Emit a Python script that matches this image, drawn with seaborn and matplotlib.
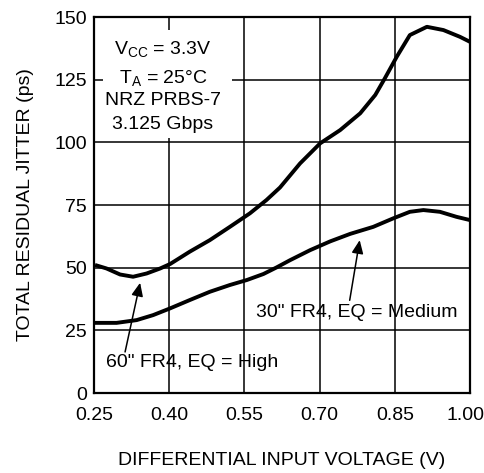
import matplotlib
matplotlib.use("Agg")
import matplotlib.pyplot as plt
import matplotlib.transforms as mtransforms
import seaborn as sns
import pandas as pd
from matplotlib.patches import Rectangle

# datos
volt_high = [0.252, 0.275, 0.302, 0.328, 0.355, 0.382, 0.402, 0.441, 0.481, 0.521, 0.561,
             0.594, 0.621, 0.661, 0.701, 0.741, 0.781, 0.811, 0.830, 0.854, 0.880, 0.914,
             0.947, 0.980, 1.00]
jitter_high = [51.1, 49.7, 47.3, 46.4, 47.7, 49.7, 51.5, 56.4, 61.0, 66.3, 71.7,
               77.0, 82.0, 91.6, 99.6, 104.9, 111.6, 118.9, 125.5, 134.2, 142.8, 146.1,
               144.8, 142.1, 140.1]

volt_med = [0.252, 0.295, 0.335, 0.368, 0.402, 0.441, 0.481, 0.521, 0.555, 0.588, 0.614,
            0.641, 0.681, 0.721, 0.761, 0.807, 0.847, 0.880, 0.907, 0.940, 0.973, 1.00]
jitter_med = [28.0, 28.0, 29.1, 31.1, 33.8, 37.1, 40.4, 43.1, 45.1, 47.5, 50.1,
              53.0, 57.0, 60.5, 63.5, 66.3, 69.7, 72.3, 73.0, 72.3, 70.3, 69.0]

x_ticks = [0.25, 0.40, 0.55, 0.70, 0.85, 1.00]
y_ticks = [0, 25, 50, 75, 100, 125, 150]

cond_lines = [r"V$_{\rm CC}$ = 3.3V", r"T$_{\rm A}$ = 25°C", "NRZ PRBS-7", "3.125 Gbps"]
label_high = '60" FR4, EQ = High'
label_med = '30" FR4, EQ = Medium'

sns.set_style("white")
plt.rcParams['font.family'] = ['Liberation Sans', 'DejaVu Sans']
plt.rcParams['mathtext.fontset'] = 'custom'
plt.rcParams['mathtext.rm'] = 'Liberation Sans'
plt.rcParams['mathtext.it'] = 'Liberation Sans:italic'
plt.rcParams['text.color'] = 'black'
plt.rcParams['axes.labelcolor'] = 'black'

fs = 14

fig = plt.figure(figsize=(4.85, 4.73), dpi=100)
ax = fig.add_axes([0.1938, 0.169, 0.7753, 0.795])

df_high = pd.DataFrame({"v": volt_high, "j": jitter_high})
df_med = pd.DataFrame({"v": volt_med, "j": jitter_med})
sns.lineplot(data=df_high, x="v", y="j", color="black", lw=2.8, ax=ax, zorder=3, sort=False)
sns.lineplot(data=df_med, x="v", y="j", color="black", lw=2.8, ax=ax, zorder=3, sort=False)
for l in ax.lines:
    l.set_solid_joinstyle("round")
    l.set_solid_capstyle("butt")

ax.set_xlim(0.25, 1.00)
ax.set_ylim(0, 150)
ax.set_xticks(x_ticks)
ax.set_xticklabels([f"{t:.2f}" for t in x_ticks])
ax.set_yticks(y_ticks)
ax.tick_params(length=0, labelsize=fs, colors="black")
ax.tick_params(axis="x", pad=10)
ax.tick_params(axis="y", pad=5)

# el ultimo rotulo se corre un poco a la izquierda
last = ax.get_xticklabels()[-1]
last.set_transform(last.get_transform() + mtransforms.ScaledTranslation(-5 / 100, 0, fig.dpi_scale_trans))

ax.grid(True, color="black", lw=1.1)
ax.set_axisbelow(True)
for s in ax.spines.values():
    s.set_color("black")
    s.set_linewidth(1.6)

ax.set_xlabel("DIFFERENTIAL INPUT VOLTAGE (V)", fontsize=fs, labelpad=20)
ax.set_ylabel("TOTAL RESIDUAL JITTER (ps)", fontsize=fs, labelpad=15)

# caja blanca con condiciones
ax.add_patch(Rectangle((0.024, 0.678), 0.343, 0.287, transform=ax.transAxes,
                       facecolor="white", edgecolor="none", zorder=1))
for txt, yy in zip(cond_lines, [0.915, 0.838, 0.778, 0.713]):
    ax.text(0.1835, yy, txt, transform=ax.transAxes, ha="center", va="center",
            fontsize=fs, zorder=4)

# flechas y etiquetas
arrow = dict(arrowstyle="-|>,head_length=0.8,head_width=0.35", color="black", lw=1.1,
             shrinkA=0, shrinkB=0)
ax.annotate("", xy=(0.342, 44), xytext=(0.312, 16.4), arrowprops=arrow, zorder=4)
ax.text(0.445, 12, label_high, ha="center", va="center", fontsize=fs, zorder=4)
ax.annotate("", xy=(0.78, 61), xytext=(0.76, 37), arrowprops=arrow, zorder=4)
ax.text(0.775, 32, label_med, ha="center", va="center", fontsize=fs, zorder=4)

fig.savefig("out.png", dpi=100)
